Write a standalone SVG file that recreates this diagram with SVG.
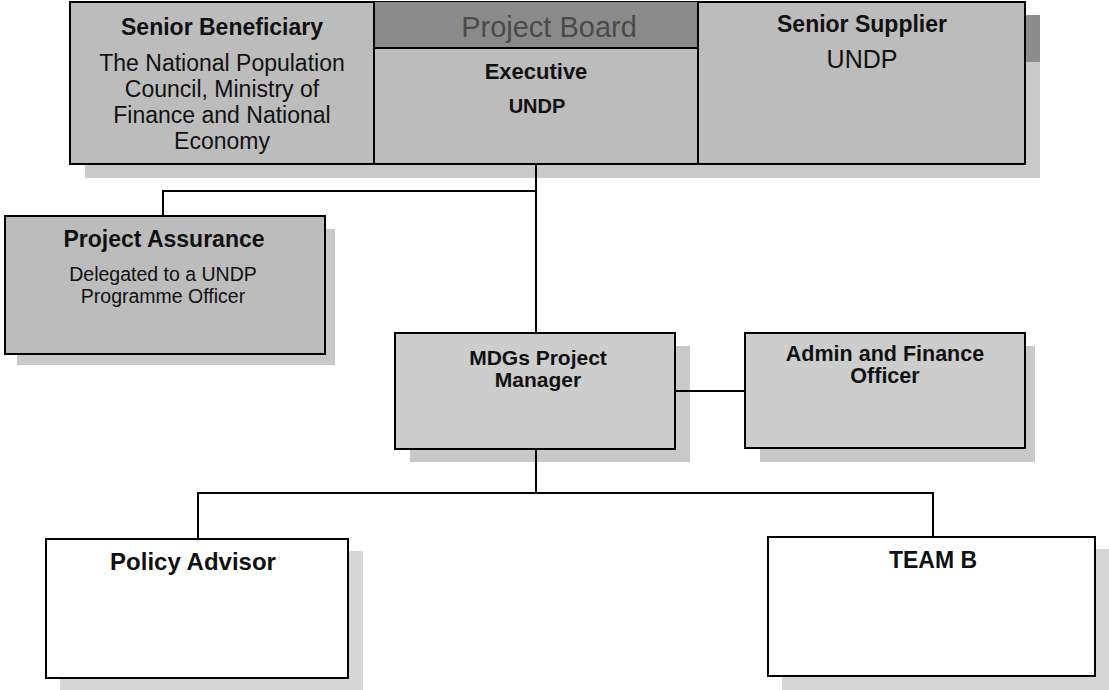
<svg xmlns="http://www.w3.org/2000/svg" width="1109" height="690" viewBox="0 0 1109 690">
<style>
.box{stroke:#000;stroke-width:2}
.dk{fill:#bcbcbc}
.md{fill:#cdcdcd}
.wh{fill:#fff}
.sh{fill:#c9c9c9}
.shl{fill:#d6d6d6}
.t{font-family:"Liberation Sans",Arial,sans-serif;fill:#111;text-anchor:middle}
.b{font-weight:bold}
.conn line{stroke:#000;stroke-width:2}
</style>
<rect width="1109" height="690" fill="#fff"/>
<g id="project-board">
<rect class="sh" x="85" y="15" width="955" height="163"/>
<rect fill="#8c8c8c" x="1025" y="15" width="15" height="47"/>
<rect class="box dk" x="70" y="2" width="955" height="162"/>
<rect fill="#8a8a8a" x="375" y="2" width="323" height="46"/>
<line x1="375" y1="48" x2="698" y2="48" stroke="#000" stroke-width="2"/>
<line x1="374" y1="2" x2="374" y2="164" stroke="#000" stroke-width="2"/>
<line x1="698" y1="2" x2="698" y2="164" stroke="#000" stroke-width="2"/>
<text class="t" x="549" y="37" font-size="29" style="fill:#4a4a4a">Project Board</text>
</g>
<g id="senior-beneficiary">
<text class="t b" x="222" y="35" font-size="23">Senior Beneficiary</text>
<text class="t" x="222" y="71" font-size="23">The National Population</text>
<text class="t" x="222" y="97" font-size="23">Council, Ministry of</text>
<text class="t" x="222" y="123" font-size="23">Finance and National</text>
<text class="t" x="222" y="149" font-size="23">Economy</text>
</g>
<g id="executive">
<text class="t b" x="536" y="79" font-size="22">Executive</text>
<text class="t b" x="537" y="113" font-size="20">UNDP</text>
</g>
<g id="senior-supplier">
<text class="t b" x="862" y="32" font-size="23">Senior Supplier</text>
<text class="t" x="862" y="68" font-size="25">UNDP</text>
</g>
<g id="project-assurance">
<rect class="sh" x="17" y="229" width="318" height="136"/>
<rect class="box dk" x="5" y="216" width="320" height="138"/>
<text class="t b" x="164" y="247" font-size="23">Project Assurance</text>
<text class="t" x="163" y="281" font-size="19.5">Delegated to a UNDP</text>
<text class="t" x="163" y="303" font-size="19.5">Programme Officer</text>
</g>
<g id="mdgs-project-manager">
<rect class="sh" x="410" y="346" width="280" height="116"/>
<rect class="box md" x="395" y="333" width="280" height="116"/>
<text class="t b" x="538" y="365" font-size="21">MDGs Project</text>
<text class="t b" x="538" y="387" font-size="21">Manager</text>
</g>
<g id="admin-finance-officer">
<rect class="sh" x="760" y="346" width="275" height="116"/>
<rect class="box md" x="745" y="333" width="280" height="115"/>
<text class="t b" x="885" y="361" font-size="21.5">Admin and Finance</text>
<text class="t b" x="885" y="383" font-size="21.5">Officer</text>
</g>
<g id="policy-advisor">
<rect class="shl" x="60" y="551" width="303" height="139"/>
<rect class="box wh" x="46" y="539" width="302" height="139"/>
<text class="t b" x="193" y="570" font-size="24">Policy Advisor</text>
</g>
<g id="team-b">
<rect class="shl" x="782" y="549" width="327" height="141"/>
<rect class="box wh" x="768" y="537" width="327" height="139"/>
<text class="t b" x="933" y="568" font-size="23">TEAM B</text>
</g>
<g id="connectors" class="conn">
<line x1="536" y1="164" x2="536" y2="333"/>
<line x1="162" y1="191" x2="537" y2="191"/>
<line x1="163" y1="191" x2="163" y2="216"/>
<line x1="675" y1="391" x2="745" y2="391"/>
<line x1="536" y1="449" x2="536" y2="493"/>
<line x1="197" y1="493" x2="934" y2="493"/>
<line x1="198" y1="493" x2="198" y2="539"/>
<line x1="933" y1="493" x2="933" y2="537"/>
</g>
</svg>
